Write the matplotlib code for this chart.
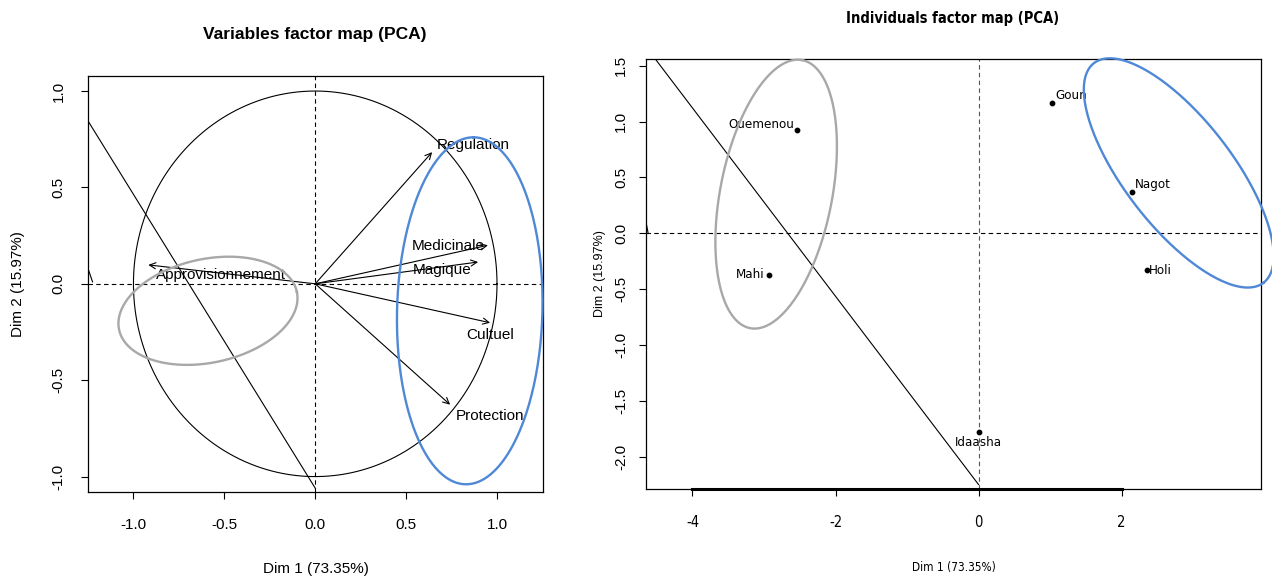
import numpy as np
import matplotlib
matplotlib.use("Agg")
import matplotlib.pyplot as plt
from matplotlib import font_manager
from matplotlib.font_manager import FontProperties

# --- data -------------------------------------------------------------
var_names = ["Regulation", "Medicinale", "Magique", "Cultuel", "Protection", "Approvisionnement"]
var_x = [0.643, 0.95, 0.896, 0.962, 0.742, -0.918]
var_y = [0.683, 0.20, 0.113, -0.202, -0.627, 0.098]
var_lab_x = [0.868, 0.73, 0.70, 0.96, 0.96, -0.516]
var_lab_y = [0.72, 0.196, 0.072, -0.265, -0.684, 0.046]

ind_names = ["Ouemenou", "Mahi", "Goun", "Nagot", "Holi", "Idaasha"]
ind_x = [-2.54, -2.93, 1.03, 2.15, 2.35, 0.0]
ind_y = [0.92, -0.37, 1.17, 0.37, -0.33, -1.78]

# ellipses: center + two conjugate half-axis vectors (data units)
ell_var_gray = [(-0.59, -0.14), (0.489, 0.098), (-0.059, 0.263)]
ell_var_blue = [(0.85, -0.14), (0.02, 0.90), (0.40, 0.0)]
ell_ind_gray = [(-2.83, 0.35), (0.364, 1.20), (0.768, -0.095)]
ell_ind_blue = [(2.80, 0.54), (1.186, -0.983), (0.597, 0.295)]

diag_var = ([-1.25, 0.0], [0.845, -1.06])
diag_ind = ([-4.52, 0.0], [1.56, -2.25])

GRAY = "#a8a8a8"
BLUE = "#4f88d6"

plt.rcParams["font.family"] = ["Liberation Sans", "DejaVu Sans"]


# look for a condensed / narrow face for the right panel (R output there is squeezed)
def find_narrow(bold):
    best = None
    for f in font_manager.fontManager.ttflist:
        tag = (f.name + " " + f.fname).lower()
        cond = ("narrow" in tag or "condensed" in tag or
                f.stretch in ("condensed", "semi-condensed", "extra-condensed"))
        if not cond or f.style != "normal":
            continue
        w = f.weight if isinstance(f.weight, int) else (700 if "bold" in str(f.weight) else 400)
        if bold != (w >= 600):
            continue
        if "extra" in tag or "ultra" in tag or "semi" in tag or "light" in tag or "thin" in tag:
            continue
        score = 0 if "liberation" in tag else (1 if "arial" in tag else 2)
        if best is None or score < best[0]:
            best = (score, f.fname)
    if best is None:
        return FontProperties(family=["Liberation Sans", "DejaVu Sans"],
                              weight="bold" if bold else "normal")
    return FontProperties(fname=best[1])


fp_n = find_narrow(False)
fp_b = find_narrow(True)


def ellipse(ax, e, color):
    t = np.linspace(0, 2 * np.pi, 300)
    (cx, cy), u, v = e
    x = cx + u[0] * np.cos(t) + v[0] * np.sin(t)
    y = cy + u[1] * np.cos(t) + v[1] * np.sin(t)
    ax.plot(x, y, color=color, lw=1.7, clip_on=False, zorder=3)


def r_style(ax):
    for s in ax.spines.values():
        s.set_linewidth(0.9)
    ax.tick_params(direction="out", length=5, width=0.8)


fig = plt.figure(figsize=(12.72, 5.79), dpi=100)
W, H = 1272, 579

# --- left: variables --------------------------------------------------
ax1 = fig.add_axes([88 / W, 1 - 492 / H, (543 - 88) / W, (492 - 76) / H])
ax1.set_xlim(-1.25, 1.253)
ax1.set_ylim(-1.08, 1.078)
r_style(ax1)
ax1.set_xticks([-1.0, -0.5, 0.0, 0.5, 1.0])
ax1.set_yticks([-1.0, -0.5, 0.0, 0.5, 1.0])
ax1.set_xticklabels(["-1.0", "-0.5", "0.0", "0.5", "1.0"], fontsize=11)
ax1.set_yticklabels(["-1.0", "-0.5", "0.0", "0.5", "1.0"], fontsize=11,
                    rotation=90, va="center")
ax1.tick_params(axis="x", pad=14)
ax1.tick_params(axis="y", pad=11)
ax1.set_xlabel("Dim 1 (73.35%)", fontsize=11, labelpad=21)
ax1.set_ylabel("Dim 2 (15.97%)", fontsize=11, labelpad=19)

th = np.linspace(0, 2 * np.pi, 400)
ax1.plot(np.cos(th), np.sin(th), color="black", lw=0.8)
ax1.axhline(0, color="black", lw=0.8, ls=(0, (4, 3)))
ax1.axvline(0, color="black", lw=0.8, ls=(0, (4, 3)))
for x, y in zip(var_x, var_y):
    ax1.annotate("", xy=(x, y), xytext=(0, 0),
                 arrowprops=dict(arrowstyle="->", lw=0.8, color="black",
                                 shrinkA=0, shrinkB=0, mutation_scale=11))
for n, x, y in zip(var_names, var_lab_x, var_lab_y):
    ax1.text(x, y, n, fontsize=11, ha="center", va="center")
ax1.plot(*diag_var, color="black", lw=0.8)
ax1.plot([-1.253, -1.225], [0.088, 0.01], color="black", lw=0.8)
ellipse(ax1, ell_var_gray, GRAY)
ellipse(ax1, ell_var_blue, BLUE)
fig.text(315 / W, 1 - 35 / H, "Variables factor map (PCA)", fontsize=12.5,
         fontweight="bold", ha="center", va="center")

# --- right: individuals -----------------------------------------------
ax2 = fig.add_axes([646 / W, 1 - 489 / H, (1261 - 646) / W, (489 - 59) / H])
ax2.set_xlim(-4.65, 3.95)
ax2.set_ylim(-2.29, 1.56)
r_style(ax2)
ax2.set_xticks([-4, -2, 0, 2])
ax2.set_xticklabels(["-4", "-2", "0", "2"], fontproperties=fp_n, fontsize=10.5)
ax2.set_yticks([-2.0, -1.5, -1.0, -0.5, 0.0, 0.5, 1.0, 1.5])
ax2.set_yticklabels(["-2.0", "-1.5", "-1.0", "-0.5", "0.0", "0.5", "1.0", "1.5"],
                    fontsize=11, rotation=90, va="center")
ax2.tick_params(axis="x", pad=14)
ax2.tick_params(axis="y", pad=8)
ax2.set_xlabel("Dim 1 (73.35%)", fontproperties=fp_n, fontsize=8.5, labelpad=22)
ax2.set_ylabel("Dim 2 (15.97%)", fontsize=9, labelpad=6)
ax2.plot([-4, 2], [-2.29, -2.29], color="black", lw=2.2, clip_on=False, zorder=4)

ax2.axhline(0, color="black", lw=0.8, ls=(0, (4, 3)))
ax2.axvline(0, color="#555555", lw=0.8, ls=(0, (4, 3)))
ax2.plot(*diag_ind, color="black", lw=0.8)
ax2.plot([-4.65, -4.62], [0.10, 0.0], color="black", lw=0.8)
ax2.scatter(ind_x, ind_y, s=10, color="black", zorder=5)
offsets = {"Ouemenou": (-2, 4, "right", "center"),
           "Mahi": (-3, 0, "right", "center"),
           "Goun": (2, 5, "left", "center"),
           "Nagot": (2, 5, "left", "center"),
           "Holi": (2, 0, "left", "center"),
           "Idaasha": (0, -3, "center", "top")}
for n, x, y in zip(ind_names, ind_x, ind_y):
    dx, dy, ha, va = offsets[n]
    ax2.annotate(n, (x, y), xytext=(dx, dy), textcoords="offset points",
                 fontproperties=fp_n, fontsize=9.5, ha=ha, va=va)
ellipse(ax2, ell_ind_gray, GRAY)
ellipse(ax2, ell_ind_blue, BLUE)
fig.text(953 / W, 1 - 18 / H, "Individuals factor map (PCA)", fontproperties=fp_b,
         fontsize=10.5, ha="center", va="center")

fig.savefig("out.png", dpi=100)
